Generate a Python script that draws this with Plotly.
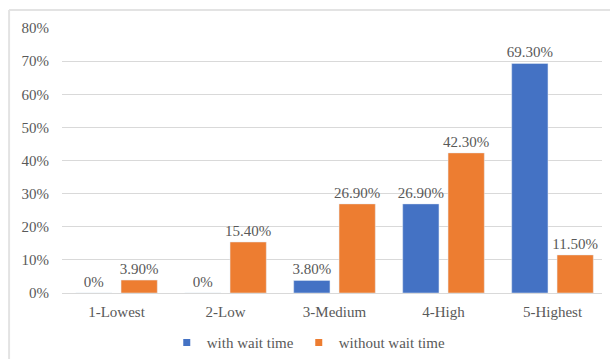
import plotly.graph_objects as go

# Satisfaction levels and share of respondents (%) per group
categories = ["1-Lowest", "2-Low", "3-Medium", "4-High", "5-Highest"]
with_wait = [0, 0, 3.8, 26.9, 69.3]
without_wait = [3.9, 15.4, 26.9, 42.3, 11.5]
y_ticks = [0, 10, 20, 30, 40, 50, 60, 70, 80]

BLUE = "#4472C4"
ORANGE = "#ED7D31"
TEXT = "#595959"
GRID = "#D9D9D9"
FONT = "Liberation Serif"
SIZE = 15


def pct_label(v):
    return "0%" if v == 0 else f"{v:.2f}%"


fig = go.Figure()
for name, vals, color in [("with wait time", with_wait, BLUE),
                          ("without wait time", without_wait, ORANGE)]:
    fig.add_trace(go.Bar(
        x=categories, y=vals, name=name, marker_color=color,
        text=[pct_label(v) for v in vals], textposition="outside",
        textfont=dict(family=FONT, size=SIZE, color=TEXT),
        constraintext="none", cliponaxis=False, showlegend=False,
    ))
    # small square legend key
    fig.add_trace(go.Scatter(
        x=[None], y=[None], mode="markers", name=name,
        marker=dict(symbol="square", size=7, color=color),
    ))

# chart frame (left and top edges)
frame = dict(type="line", xref="paper", yref="paper",
             line=dict(color="#E3E3E3", width=2), layer="below")
fig.add_shape(x0=-0.098, x1=-0.098, y0=1.068, y1=-0.26, **frame)
fig.add_shape(x0=-0.098, x1=1.02, y0=1.068, y1=1.068, **frame)

fig.update_layout(
    width=610, height=359,
    margin=dict(l=62, r=8, t=28, b=66, autoexpand=False),
    paper_bgcolor="white", plot_bgcolor="white",
    font=dict(family=FONT, size=SIZE, color=TEXT),
    barmode="group", bargap=0.168, bargroupgap=0.2,
    legend=dict(orientation="h", x=0.194, xanchor="left", y=-0.125,
                yanchor="top", font=dict(family=FONT, size=SIZE, color=TEXT),
                itemwidth=30, tracegroupgap=0),
    xaxis=dict(range=[-0.5, 4.454], showgrid=False, showline=False, ticks="",
               ticklabelstandoff=8,
               tickfont=dict(family=FONT, size=SIZE, color=TEXT)),
    yaxis=dict(range=[0, 80], tickmode="array", tickvals=y_ticks,
               ticktext=[f"{v}%" for v in y_ticks],
               showgrid=True, gridcolor=GRID, gridwidth=1,
               zeroline=True, zerolinecolor=GRID, zerolinewidth=1,
               showline=False, ticks="", ticklabelstandoff=12,
               tickfont=dict(family=FONT, size=SIZE, color=TEXT)),
)

fig.write_html("out.html")
